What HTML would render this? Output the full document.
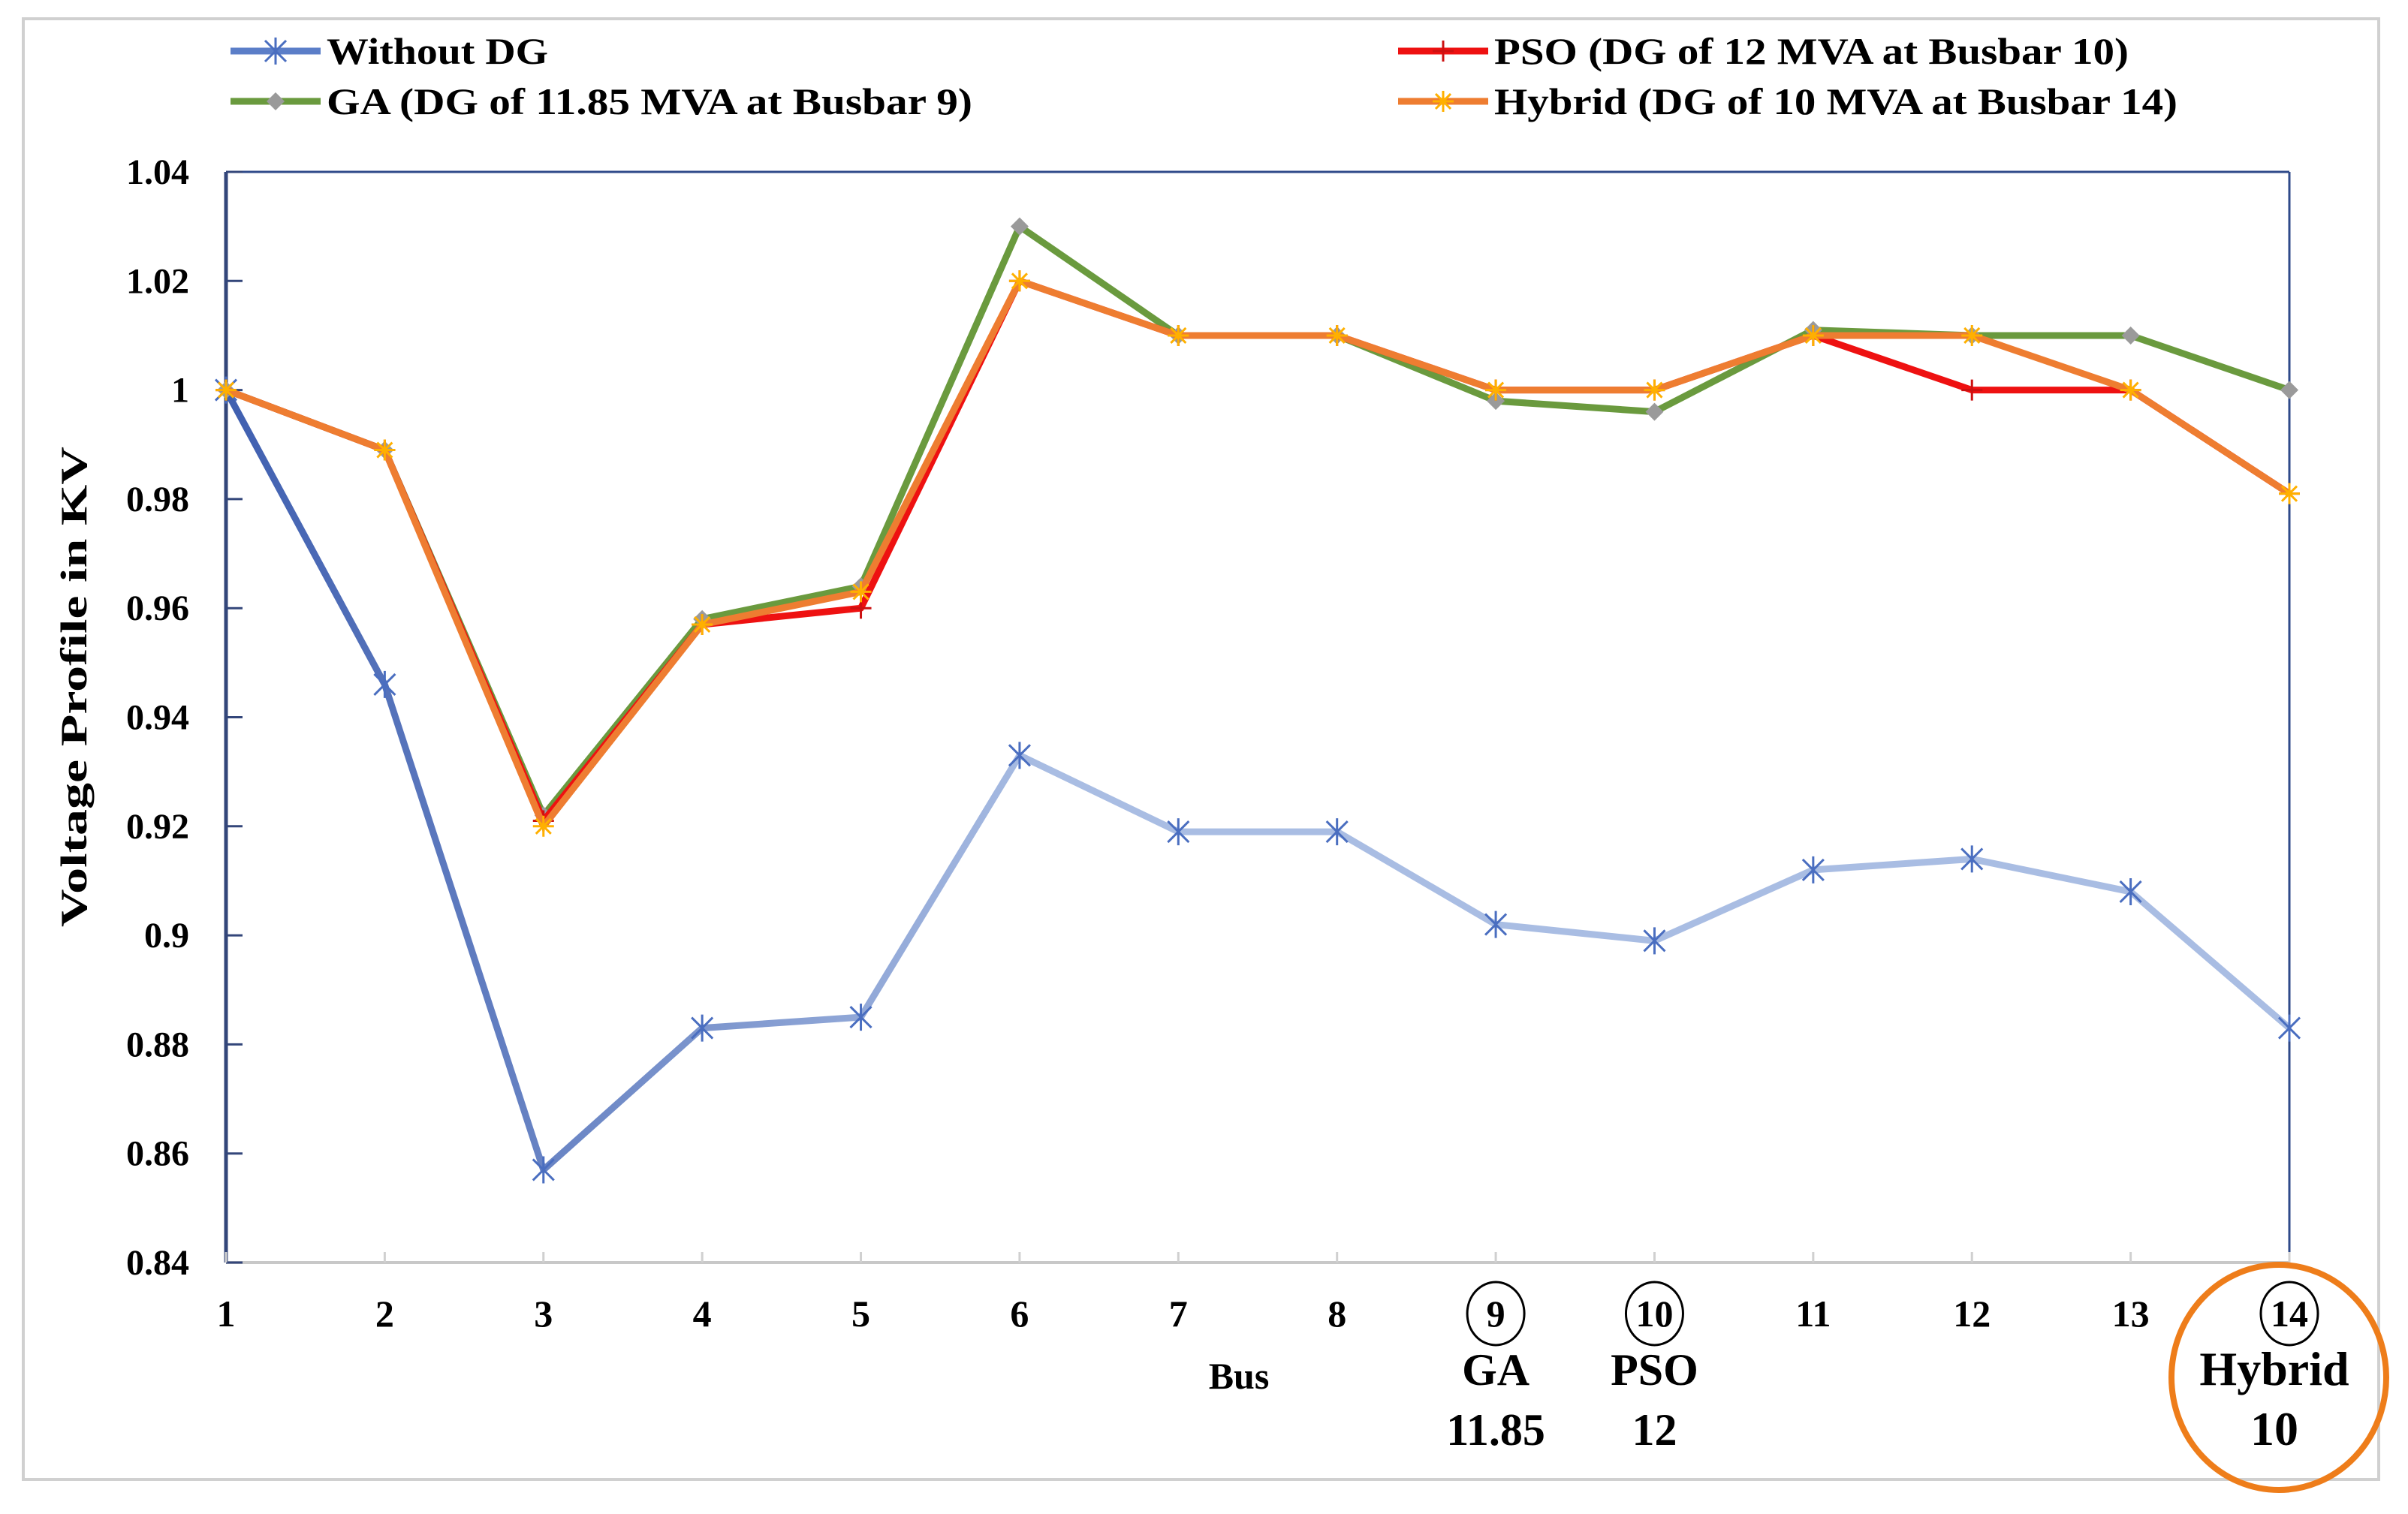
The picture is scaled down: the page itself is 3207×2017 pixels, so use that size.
<!DOCTYPE html>
<html><head><meta charset="utf-8"><style>
html,body{margin:0;padding:0;background:#fff;}
svg{display:block;}
text{font-family:"Liberation Serif",serif;font-weight:bold;fill:#000;}
</style></head><body>
<svg id="chart" width="3207" height="2017" viewBox="0 0 3207 2017" xmlns="http://www.w3.org/2000/svg">
<defs>
<linearGradient id="blueGrad" gradientUnits="userSpaceOnUse" x1="301" y1="0" x2="1400" y2="0">
<stop offset="0" stop-color="#3f5fb0"/><stop offset="1" stop-color="#a9bde3"/>
</linearGradient>
</defs>
<rect x="31" y="25" width="3137" height="1946" fill="none" stroke="#d0d0d0" stroke-width="4"/>
<g id="grid"></g>
<g id="series"></g>
<g id="labels"></g>
<g id="legend"></g>
</svg>
<script>
const categories = ["1","2","3","4","5","6","7","8","9","10","11","12","13","14"];
const yTicks = [0.84,0.86,0.88,0.9,0.92,0.94,0.96,0.98,1,1.02,1.04];
const yTickLabels = ["0.84","0.86","0.88","0.9","0.92","0.94","0.96","0.98","1","1.02","1.04"];
const withoutDG = [1,0.946,0.857,0.883,0.885,0.933,0.919,0.919,0.902,0.899,0.912,0.914,0.908,0.883];
const psoValues = [1,0.989,0.921,0.957,0.960,1.020,1.010,1.010,1.000,1.000,1.010,1.000,1.000,0.981];
const gaValues = [1,0.989,0.922,0.958,0.964,1.030,1.010,1.010,0.998,0.996,1.011,1.010,1.010,1.000];
const hybridValues = [1,0.989,0.920,0.957,0.963,1.020,1.010,1.010,1.000,1.000,1.010,1.010,1.000,0.981];

const NS="http://www.w3.org/2000/svg";
const L=301,R=3049,T=229,B=1682,yMin=0.84,yMax=1.04;
const xScale=i=>L+i*(R-L)/(categories.length-1);
const yScale=v=>B-(v-yMin)/(yMax-yMin)*(B-T);
function mk(tag,attrs,parent){const e=document.createElementNS(NS,tag);for(const k in attrs)e.setAttribute(k,attrs[k]);parent.appendChild(e);return e;}
const grid=document.getElementById('grid'),ser=document.getElementById('series'),lab=document.getElementById('labels'),leg=document.getElementById('legend');

let ax=mk('line',{x1:L,y1:T,x2:R,y2:T,stroke:'#2f4a8a','stroke-width':3},grid);


ax=mk('line',{x1:R,y1:T,x2:R,y2:B,stroke:'#2f4a8a','stroke-width':3},grid);


ax=mk('line',{x1:L,y1:B,x2:R,y2:B,stroke:'#c8c8c8','stroke-width':4},grid);


ax=mk('line',{x1:L,y1:T,x2:L,y2:B,stroke:'#33467a','stroke-width':5},grid);



yTicks.forEach((v,i)=>{
  const y=yScale(v);
  const tk=mk('line',{x1:L,y1:y,x2:L+22,y2:y,stroke:'#33467a','stroke-width':3},grid);
  
  
  const t=mk('text',{x:252,y:y+16,'text-anchor':'end','font-size':48},lab);
  t.textContent=yTickLabels[i];
  
  
});
categories.forEach((c,i)=>{
  const x=xScale(i);
  const tk=mk('line',{x1:x,y1:B-14,x2:x,y2:B,stroke:'#d0d0d0','stroke-width':3},grid);
  
  
  const t=mk('text',{x:x,y:1767,'text-anchor':'middle','font-size':50},lab);
  t.textContent=c;
  
  
});

function marker(type,x,y,color,g){
  const s=14;
  if(type==='star'){
    mk('path',{d:`M${x-s} ${y-s}L${x+s} ${y+s}M${x+s} ${y-s}L${x-s} ${y+s}M${x} ${y-s-4}L${x} ${y+s+4}`,stroke:color,'stroke-width':3,fill:'none'},g);
  }else if(type==='plus'){
    mk('path',{d:`M${x-s} ${y}L${x+s} ${y}M${x} ${y-s}L${x} ${y+s}`,stroke:color,'stroke-width':3,fill:'none'},g);
  }else if(type==='diamond'){
    mk('path',{d:`M${x} ${y-12}L${x+12} ${y}L${x} ${y+12}L${x-12} ${y}Z`,fill:color},g);
  }else{
    mk('path',{d:`M${x-s} ${y}L${x+s} ${y}M${x} ${y-s}L${x} ${y+s}M${x-10} ${y-10}L${x+10} ${y+10}M${x+10} ${y-10}L${x-10} ${y+10}`,stroke:color,'stroke-width':3,fill:'none'},g);
  }
}
function drawSeries(vals,color,mcolor,mtype,name){
  const g=mk('g',{},ser);
  
  
  const pts=vals.map((v,i)=>xScale(i)+','+yScale(v)).join(' ');
  mk('polyline',{points:pts,fill:'none',stroke:color,'stroke-width':9,'stroke-linejoin':'round'},g);
  vals.forEach((v,i)=>marker(mtype,xScale(i),yScale(v),mcolor,g));
}
drawSeries(withoutDG,'url(#blueGrad)','#4a6ec0','star','series-without-dg');
drawSeries(gaValues,'#6a9a3e','#9a9a9a','diamond','series-ga');
drawSeries(psoValues,'#ee1111','#cc1111','plus','series-pso');
drawSeries(hybridValues,'#ee7d31','#ffb000','asterisk','series-hybrid');

let t=mk('text',{x:0,y:0,'text-anchor':'middle','font-size':50,textLength:640,lengthAdjust:'spacingAndGlyphs',transform:'translate(115,915) rotate(-90)'},lab);
t.textContent='Voltage  Profile in KV';


t=mk('text',{x:1650,y:1850,'text-anchor':'middle','font-size':50},lab);
t.textContent='Bus';



const ann=[[8,'GA','11.85',60],[9,'PSO','12',60],[13,'Hybrid','10',64]];
ann.forEach(a=>{
  const x=xScale(a[0]);
  const c=mk('ellipse',{cx:x,cy:1750,rx:38,ry:42,fill:'none',stroke:'#000','stroke-width':3},lab);
  
  
  const dx=a[0]===13?-20:0;
  let tt=mk('text',{x:x+dx,y:1845,'text-anchor':'middle','font-size':a[3]},lab);
  tt.textContent=a[1];
  
  
  tt=mk('text',{x:x+dx,y:1925,'text-anchor':'middle','font-size':a[3]},lab);
  tt.textContent=a[2];
  
  
});
const oe=mk('ellipse',{cx:3035,cy:1835,rx:143,ry:150,fill:'none',stroke:'#ee7d1a','stroke-width':8},lab);



const legendItems=[
 [307,68,'#5b7ec8','#4a6ec0','star','Without DG',295],
 [1862,68,'#ee1111','#cc1111','plus','PSO (DG of 12 MVA at Busbar 10)',845],
 [307,135,'#6a9a3e','#9a9a9a','diamond','GA (DG of 11.85 MVA at Busbar 9)',860],
 [1862,135,'#ee7d31','#ffb000','asterisk','Hybrid (DG of 10 MVA at Busbar 14)',910]
];
legendItems.forEach(it=>{
  const g=mk('g',{},leg);
  
  
  mk('line',{x1:it[0],y1:it[1],x2:it[0]+120,y2:it[1],stroke:it[2],'stroke-width':9},g);
  marker(it[4],it[0]+60,it[1],it[3],g);
  const tx=mk('text',{x:it[0]+128,y:it[1]+17,'font-size':50,textLength:it[6],lengthAdjust:'spacingAndGlyphs'},g);
  tx.textContent=it[5];
});
</script>
</body></html>
